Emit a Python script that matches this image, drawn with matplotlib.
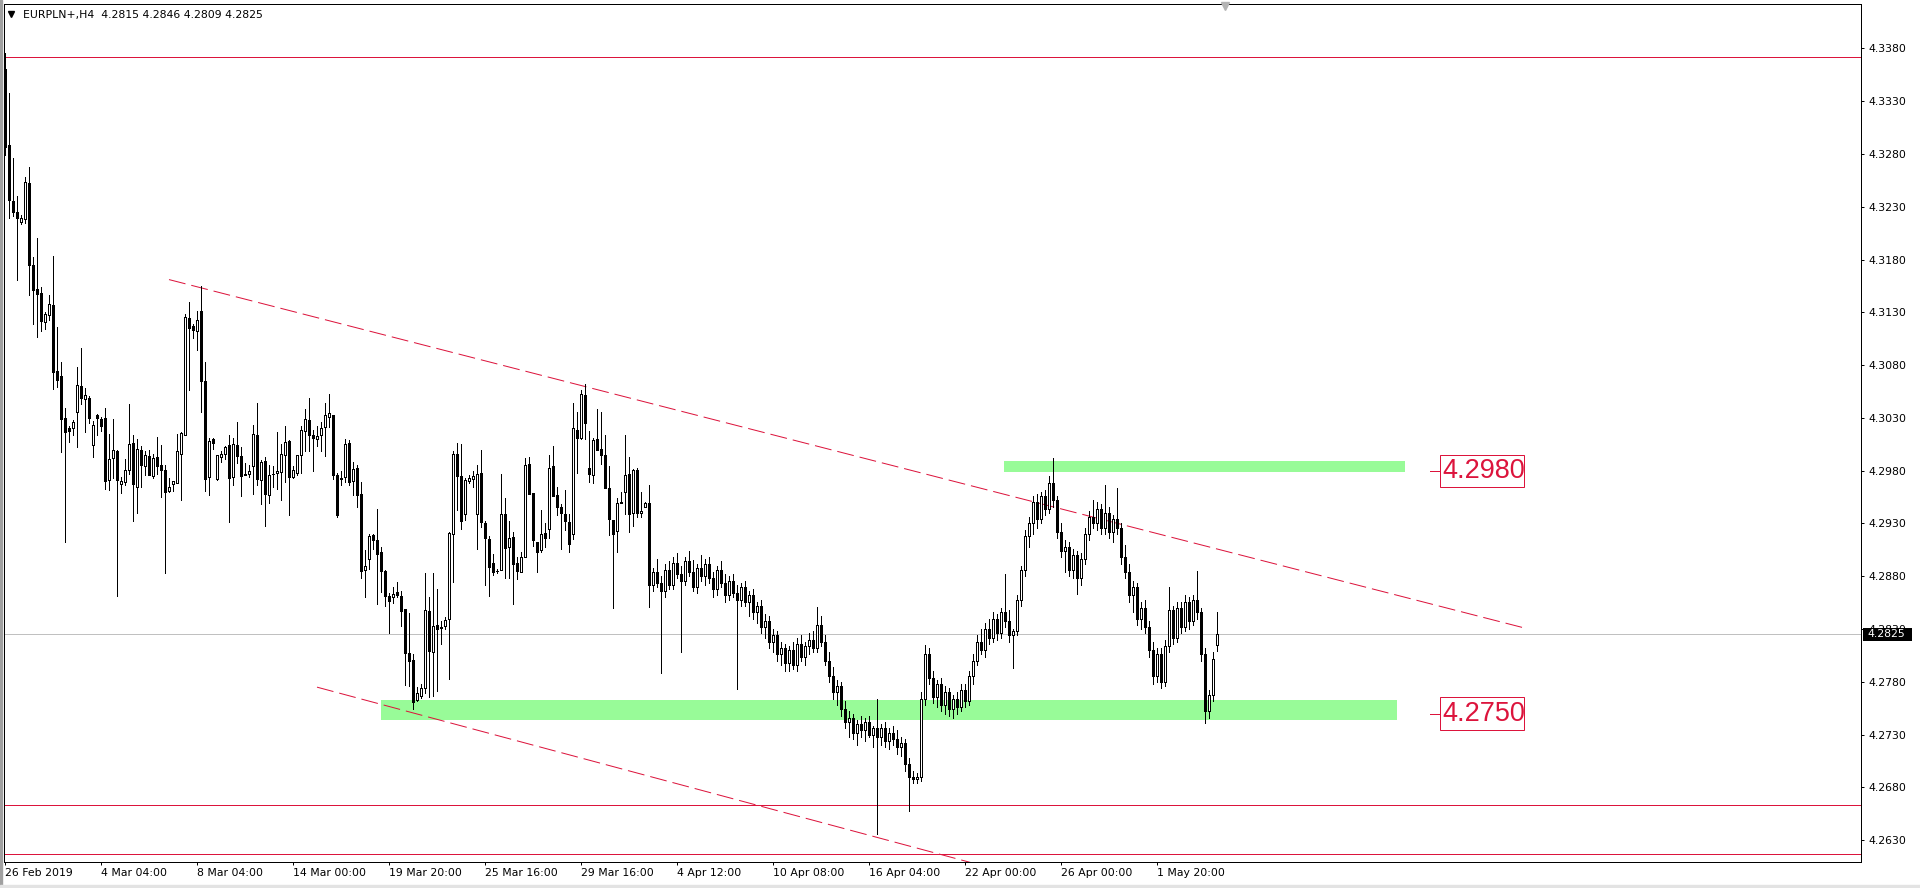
import numpy as np
import matplotlib
matplotlib.use("Agg")
import matplotlib.pyplot as plt
from matplotlib.patches import Rectangle
from matplotlib.lines import Line2D

# =====================================================
# DATA  (EURPLN+ H4, quotes stored as 1e-4 above 4.0000)
# =====================================================
OPEN = [
    3360, 3288, 3235, 3225, 3216, 3218, 3252, 3175, 3152, 3148,
    3121, 3127, 3137, 3074, 3070, 3030, 3020, 3020, 3036, 3060,
    3048, 3049, 3004, 3033, 3029, 3030, 2971, 2992, 2999, 2967,
    2969, 2981, 3006, 2965, 3000, 2984, 2994, 2975, 2993, 2985,
    2981, 2961, 2967, 2968, 2996, 3014, 3125, 3117, 3112, 3131,
    3065, 2974, 3010, 2972, 2993, 2996, 3004, 2974, 3004, 2994,
    2977, 2977, 2984, 3014, 2971, 2989, 2957, 2977, 2978, 2979,
    2995, 3008, 2974, 2978, 2995, 3018, 3028, 3014, 3010, 3014,
    3021, 3031, 3033, 2976, 2973, 2974, 3006, 2970, 2983, 2958,
    2886, 2896, 2919, 2914, 2903, 2885, 2861, 2860, 2865, 2861,
    2849, 2807, 2801, 2763, 2767, 2774, 2847, 2808, 2834, 2831,
    2833, 2840, 2920, 2996, 2975, 2939, 2970, 2972, 2939, 2978,
    2930, 2915, 2893, 2885, 2886, 2939, 2908, 2917, 2893, 2884,
    2898, 2986, 2959, 2912, 2905, 2921, 2925, 2984, 2957, 2946,
    2939, 2931, 2920, 3019, 3011, 3052, 2983, 2976, 3010, 3001,
    2995, 2964, 2933, 2923, 2950, 2960, 2977, 2940, 2981, 2940,
    2946, 2949,
    2872, 2884, 2874, 2866, 2886, 2872, 2893, 2882, 2876, 2894,
    2884, 2870, 2888, 2880, 2892, 2878, 2868, 2886, 2874, 2862,
    2876, 2864, 2858, 2870, 2856, 2862, 2846, 2852, 2832, 2838,
    2818, 2824, 2806, 2812, 2798, 2810, 2796, 2816, 2804, 2814,
    2820, 2812, 2834, 2818, 2800, 2786, 2770, 2776, 2754, 2742,
    2746, 2732, 2740, 2734, 2742, 2730, 2736, 2728, 2736, 2724,
    2732, 2726, 2718, 2722, 2702, 2690, 2688, 2690, 2764, 2806,
    2784, 2766, 2778, 2758, 2770, 2754, 2764, 2756, 2772, 2762,
    2786, 2800, 2818, 2810, 2830, 2822, 2840, 2826, 2846, 2838,
    2824, 2828, 2858, 2886, 2918, 2930, 2950, 2934, 2956, 2944,
    2968, 2952, 2922, 2904, 2908, 2886, 2900, 2878, 2896, 2920,
    2936, 2930, 2944, 2926, 2940, 2922, 2934, 2926, 2898, 2884,
    2862, 2870, 2840, 2850, 2832, 2810, 2786, 2806, 2780, 2814,
    2848, 2822, 2850, 2832, 2856, 2838, 2858, 2846, 2806, 2752,
    2768, 2815,
]
HIGH = [
    3376, 3338, 3276, 3240, 3222, 3258, 3268, 3182, 3200, 3154,
    3130, 3146, 3183, 3116, 3083, 3039, 3022, 3028, 3078, 3096,
    3058, 3051, 3027, 3034, 3031, 3039, 3015, 3029, 3000, 2974,
    2991, 3043, 3014, 3010, 3003, 2999, 3000, 2996, 3012, 3004,
    2985, 2973, 2970, 3015, 3017, 3128, 3140, 3119, 3131, 3155,
    3083, 3011, 3011, 2995, 2999, 3003, 3014, 3011, 3026, 3002,
    2987, 2985, 3023, 3044, 2990, 2993, 2985, 2984, 3017, 3005,
    3022, 3009, 2984, 2995, 3022, 3038, 3049, 3019, 3022, 3026,
    3044, 3053, 3033, 2978, 2980, 3010, 3009, 2988, 2985, 2969,
    2905, 2920, 2920, 2944, 2908, 2886, 2864, 2870, 2875, 2866,
    2849, 2845, 2806, 2775, 2778, 2883, 2860, 2883, 2868, 2838,
    2841, 2922, 2999, 3006, 3005, 2973, 2976, 2980, 2985, 3000,
    2932, 2918, 2901, 2887, 2977, 2954, 2932, 2922, 2898, 2903,
    2992, 2993, 2959, 2912, 2943, 2930, 2995, 3003, 2965, 2948,
    2962, 2939, 3044, 3036, 3056, 3062, 3018, 3011, 3038, 3036,
    3014, 2984, 2933, 2954, 2960, 3014, 2993, 2982, 2983, 2960,
    2950, 2966,
    2888, 2896, 2880, 2892, 2894, 2898, 2902, 2890, 2898, 2904,
    2895, 2892, 2900, 2896, 2898, 2884, 2890, 2894, 2882, 2880,
    2882, 2872, 2874, 2876, 2866, 2868, 2856, 2858, 2844, 2842,
    2830, 2828, 2818, 2816, 2814, 2818, 2822, 2824, 2818, 2826,
    2828, 2851, 2842, 2824, 2808, 2794, 2782, 2780, 2762, 2752,
    2750, 2744, 2748, 2746, 2748, 2738, 2764, 2740, 2742, 2736,
    2738, 2734, 2728, 2726, 2708, 2696, 2694, 2770, 2815, 2812,
    2790, 2782, 2784, 2776, 2774, 2768, 2770, 2778, 2778, 2790,
    2806, 2824, 2830, 2836, 2840, 2846, 2844, 2850, 2882, 2848,
    2830, 2862, 2890, 2924, 2936, 2956, 2958, 2960, 2962, 2975,
    2992, 2956, 2930, 2914, 2912, 2906, 2904, 2902, 2926, 2942,
    2952, 2950, 2948, 2966, 2946, 2938, 2964, 2930, 2910, 2892,
    2876, 2874, 2856, 2858, 2838, 2818, 2812, 2812, 2820, 2870,
    2852, 2856, 2856, 2862, 2860, 2862, 2885, 2850, 2812, 2772,
    2808, 2846,
]
LOW = [
    3279, 3219, 3221, 3161, 3214, 3215, 3146, 3119, 3107, 3112,
    3114, 3123, 3057, 3059, 2998, 2912, 3007, 3014, 3002, 3043,
    3017, 3025, 2993, 3014, 3018, 2963, 2962, 2973, 2861, 2959,
    2966, 2977, 2932, 2940, 2965, 2976, 2976, 2973, 2977, 2955,
    2883, 2960, 2961, 2968, 2952, 3014, 3056, 3106, 3094, 3036,
    2961, 2957, 3001, 2971, 2988, 2991, 2931, 2966, 2987, 2956,
    2976, 2974, 2958, 2966, 2948, 2928, 2949, 2965, 2963, 2952,
    2969, 2938, 2973, 2976, 2978, 2999, 2999, 2980, 3003, 2999,
    2994, 3021, 2972, 2936, 2966, 2969, 2966, 2957, 2946, 2878,
    2860, 2887, 2906, 2854, 2865, 2852, 2826, 2855, 2860, 2833,
    2777, 2776, 2754, 2762, 2765, 2769, 2766, 2767, 2771, 2816,
    2830, 2783, 2875, 2943, 2925, 2933, 2968, 2965, 2906, 2927,
    2872, 2861, 2881, 2883, 2886, 2878, 2878, 2854, 2877, 2884,
    2898, 2958, 2909, 2884, 2903, 2908, 2916, 2956, 2938, 2906,
    2924, 2903, 2915, 2978, 3010, 3010, 2969, 2968, 3000, 2986,
    2964, 2919, 2850, 2903, 2949, 2939, 2922, 2928, 2936, 2936,
    2946, 2851,
    2866, 2870, 2788, 2860, 2868, 2868, 2878, 2808, 2872, 2880,
    2866, 2864, 2876, 2872, 2874, 2860, 2862, 2870, 2856, 2858,
    2860, 2773, 2852, 2852, 2842, 2840, 2836, 2826, 2822, 2812,
    2808, 2800, 2796, 2790, 2790, 2792, 2790, 2800, 2796, 2806,
    2808, 2808, 2814, 2796, 2780, 2764, 2758, 2748, 2736, 2728,
    2726, 2720, 2728, 2724, 2728, 2718, 2636, 2720, 2718, 2716,
    2720, 2712, 2710, 2696, 2658, 2684, 2684, 2686, 2758, 2778,
    2760, 2756, 2752, 2750, 2748, 2746, 2750, 2752, 2756, 2758,
    2778, 2796, 2806, 2804, 2816, 2818, 2820, 2822, 2832, 2818,
    2793, 2824, 2852, 2880, 2908, 2920, 2926, 2930, 2938, 2940,
    2946, 2916, 2898, 2884, 2880, 2878, 2863, 2872, 2892, 2914,
    2926, 2924, 2920, 2920, 2916, 2912, 2920, 2892, 2878, 2856,
    2846, 2834, 2830, 2826, 2804, 2778, 2780, 2774, 2776, 2808,
    2816, 2818, 2826, 2828, 2830, 2834, 2840, 2800, 2741, 2746,
    2762, 2809,
]
CLOSE = [
    3287, 3236, 3225, 3219, 3219, 3253, 3175, 3151, 3147, 3122,
    3128, 3138, 3073, 3066, 3029, 3017, 3018, 3026, 3061, 3049,
    3052, 3030, 3023, 3030, 3022, 2970, 2991, 3000, 2971, 2970,
    2981, 3005, 2967, 3001, 2985, 2995, 2976, 2992, 2984, 2981,
    2960, 2965, 2970, 2999, 3016, 3126, 3115, 3113, 3123, 3065,
    2972, 3008, 3006, 2995, 2996, 3002, 2973, 3005, 2994, 2975,
    2976, 2980, 3015, 2972, 2988, 2958, 2976, 2977, 2980, 2996,
    3007, 2974, 2981, 2995, 3019, 3029, 3014, 3011, 3013, 3020,
    3033, 3035, 2976, 2938, 2972, 3005, 2969, 2982, 2957, 2885,
    2890, 2918, 2914, 2901, 2885, 2861, 2857, 2863, 2862, 2847,
    2807, 2800, 2761, 2769, 2774, 2848, 2809, 2833, 2830, 2832,
    2839, 2921, 2996, 2975, 2932, 2971, 2973, 2975, 2977, 2931,
    2916, 2889, 2884, 2885, 2939, 2907, 2916, 2892, 2885, 2898,
    2985, 2958, 2914, 2903, 2920, 2916, 2983, 2956, 2946, 2940,
    2932, 2911, 3020, 3011, 3053, 3025, 2977, 3009, 3000, 2995,
    2964, 2934, 2920, 2949, 2949, 2976, 2939, 2981, 2940, 2942,
    2949, 2872,
    2884, 2874, 2866, 2886, 2872, 2893, 2882, 2876, 2894, 2884,
    2870, 2888, 2880, 2892, 2878, 2868, 2886, 2874, 2862, 2876,
    2864, 2858, 2870, 2856, 2862, 2846, 2852, 2832, 2838, 2818,
    2824, 2806, 2812, 2798, 2810, 2796, 2816, 2804, 2814, 2820,
    2812, 2834, 2818, 2800, 2786, 2770, 2776, 2754, 2742, 2746,
    2732, 2740, 2734, 2742, 2730, 2736, 2728, 2736, 2724, 2732,
    2726, 2718, 2722, 2702, 2690, 2688, 2690, 2764, 2806, 2784,
    2766, 2778, 2758, 2770, 2754, 2764, 2756, 2772, 2762, 2786,
    2800, 2818, 2810, 2830, 2822, 2840, 2826, 2846, 2838, 2824,
    2828, 2858, 2886, 2918, 2930, 2950, 2934, 2956, 2944, 2968,
    2952, 2922, 2904, 2908, 2886, 2900, 2878, 2896, 2920, 2936,
    2930, 2944, 2926, 2940, 2922, 2934, 2926, 2898, 2884, 2862,
    2870, 2840, 2850, 2832, 2810, 2786, 2806, 2780, 2814, 2848,
    2822, 2850, 2832, 2856, 2838, 2858, 2846, 2806, 2752, 2768,
    2802, 2825,
]

# time labels, one every 24 bars
DATE_LABELS = ["26 Feb 2019", "4 Mar 04:00", "8 Mar 04:00", "14 Mar 00:00",
               "19 Mar 20:00", "25 Mar 16:00", "29 Mar 16:00", "4 Apr 12:00",
               "10 Apr 08:00", "16 Apr 04:00", "22 Apr 00:00", "26 Apr 00:00",
               "1 May 20:00"]
Y_TICKS = [4.2630, 4.2680, 4.2730, 4.2780, 4.2830, 4.2880, 4.2930, 4.2980,
           4.3030, 4.3080, 4.3130, 4.3180, 4.3230, 4.3280, 4.3330, 4.3380]

HLINES = [4.3372, 4.2663, 4.2617]
TRENDLINES = [((41, 4.3161), (379.9, 4.2831)),
              ((78, 4.2775), (262, 4.2588))]
# zones: bar from, bar to, low, high
ZONES = [(249.75, 350.0, 4.2979, 4.2989),
         (94.0, 347.9, 4.2744, 4.2763)]
PRICE_LABELS = [4.2980, 4.2750]
LAST_PRICE = 4.2825
HEADER = "EURPLN+,H4  4.2815 4.2846 4.2809 4.2825"

# =====================================================
# FIGURE
# =====================================================
W, H = 1920, 888
DPI = 100
PX = 72 / DPI          # one pixel in points
RED = "#DC143C"
FONT = "DejaVu Sans"

o = 4 + np.array(OPEN) / 10000
h = 4 + np.array(HIGH) / 10000
l = 4 + np.array(LOW) / 10000
c = 4 + np.array(CLOSE) / 10000
x = np.arange(len(c))

fig = plt.figure(figsize=(W / DPI, H / DPI), dpi=DPI, facecolor="white")
ax = fig.add_axes([4 / W, 26 / H, 1857 / W, 858 / H])
ax.set_xlim(-0.25, 464.0)
ax.set_ylim(4.26094, 4.34220)

# ---- background objects ----
for x0, x1, lo, hi in ZONES:
    ax.add_patch(Rectangle((x0, lo), x1 - x0, hi - lo, facecolor="#98FB98",
                           edgecolor="none", zorder=1))
ax.axhline(LAST_PRICE, color="#C0C0C0", lw=PX, zorder=1)
for y in HLINES:
    ax.axhline(y, color=RED, lw=PX, zorder=2)
for (xa, ya), (xb, yb) in TRENDLINES:
    ax.plot([xa, xb], [ya, yb], color=RED, lw=PX, dashes=(17, 6), zorder=2)

# ---- candles ----
ax.vlines(x, l, h, colors="black", lw=PX, antialiased=False, zorder=3)
bull = c >= o
body = np.maximum(np.abs(c - o), 1e-6)
ax.bar(x, body, bottom=np.minimum(o, c), width=0.5,
       color=np.where(bull, "white", "black"), edgecolor="black",
       linewidth=PX, antialiased=False, zorder=4)

# ---- price labels ----
for p in PRICE_LABELS:
    ax.plot([356.25, 358.75], [p, p], color=RED, lw=PX, zorder=5)
    ax.add_patch(Rectangle((358.75, p - 0.00152), 21.05, 0.00304,
                           facecolor="white", edgecolor=RED, lw=PX, zorder=5))
    ax.text(359.3, p, f"{p:.4f}", color=RED, fontsize=19.5,
            family="Liberation Sans", va="center", ha="left", zorder=6)

# ---- axes ----
for s in ax.spines.values():
    s.set_color("black")
    s.set_linewidth(PX)

ax.set_xticks(np.arange(len(DATE_LABELS)) * 24)
ax.set_xticklabels(DATE_LABELS, ha="left", family=FONT)
ax.tick_params(axis="x", length=2.5, width=PX, pad=2, labelsize=7.8)

ax.yaxis.tick_right()
ax.set_yticks(Y_TICKS)
ax.set_yticklabels([f"{v:.4f}" for v in Y_TICKS], family=FONT)
ax.tick_params(axis="y", length=2.5, width=PX, pad=2.5, labelsize=7.8)

# current price box on the price scale
fig.add_artist(Rectangle((1862.5 / W, 1 - 640.5 / H), 49 / W, 12.8 / H,
                         facecolor="black", edgecolor="none",
                         transform=fig.transFigure, zorder=9))
fig.text(1867 / W, 1 - 634 / H, f"{LAST_PRICE:.4f}", color="white",
         fontsize=7.8, family=FONT, va="center", ha="left", zorder=10)

# header
fig.add_artist(Line2D([11 / W], [1 - 14 / H], marker="v", ms=4.5,
                      color="black", transform=fig.transFigure))
fig.text(23 / W, 1 - 15 / H, HEADER, fontsize=7.8, family=FONT,
         va="center", ha="left")

# chart shift marker
fig.add_artist(Line2D([1225 / W], [1 - 6 / H], marker="v", ms=6,
                      color="#B4B4B4", transform=fig.transFigure))

# window border bits
fig.add_artist(Rectangle((0, 0), 2 / W, 1, color="#A0A0A0",
                         transform=fig.transFigure))
fig.add_artist(Rectangle((0, 0), 1, 3 / H, color="#E3E3E3",
                         transform=fig.transFigure))

fig.savefig("out.png", dpi=DPI, facecolor="white")
